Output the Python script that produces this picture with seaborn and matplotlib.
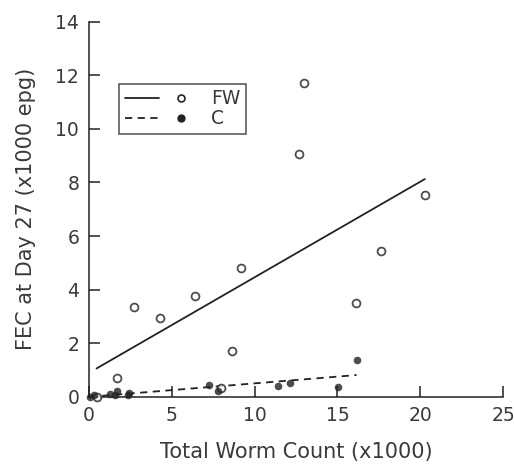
import matplotlib
matplotlib.use("Agg")
import matplotlib.pyplot as plt
import seaborn as sns
import numpy as np
import pandas as pd
from matplotlib.lines import Line2D
from matplotlib.legend_handler import HandlerTuple

# Data
fw_x = [0.46, 1.71, 2.72, 4.29, 6.42, 8.65, 9.18, 7.95, 12.70, 13.00, 16.12, 17.61, 20.27]
fw_y = [0.00, 0.70, 3.35, 2.94, 3.76, 1.71, 4.81, 0.31, 9.05, 11.70, 3.50, 5.44, 7.52]
c_x = [0.05, 0.30, 1.30, 1.55, 1.70, 2.40, 2.35, 7.25, 7.80, 11.40, 12.15, 15.05, 16.15]
c_y = [0.00, 0.05, 0.10, 0.05, 0.20, 0.15, 0.05, 0.45, 0.20, 0.40, 0.52, 0.38, 1.38]
x_ticks = [0, 5, 10, 15, 20, 25]
y_ticks = [0, 2, 4, 6, 8, 10, 12, 14]

sns.set_style("ticks")
plt.rcParams['font.family'] = ['DejaVu Sans']

fw = pd.DataFrame({"x": fw_x, "y": fw_y})
c = pd.DataFrame({"x": c_x, "y": c_y})

fig = plt.figure(figsize=(5.14, 4.67), dpi=100)
ax = fig.add_axes([0.173, 0.1505, 0.806, 0.803])

ink = "#222222"
txt = "#3a3a3a"

sns.regplot(data=fw, x="x", y="y", ax=ax, ci=None, truncate=True,
            scatter_kws=dict(s=32, facecolors="white", edgecolors=ink, linewidths=1.3, clip_on=False, zorder=3),
            line_kws=dict(color=ink, lw=1.3, zorder=2))
sns.regplot(data=c, x="x", y="y", ax=ax, ci=None, truncate=True,
            scatter_kws=dict(s=30, color=ink, linewidths=0, clip_on=False, zorder=3),
            line_kws=dict(color=ink, lw=1.3, ls=(0, (4, 3)), zorder=2))

ax.set_xlim(0, 25)
ax.set_ylim(0, 14)
ax.set_xticks(x_ticks)
ax.set_yticks(y_ticks)
ax.tick_params(direction="in", length=8, width=1.1, color=ink, labelcolor=txt, labelsize=13.5, pad=7)
for s in ["top", "right"]:
    ax.spines[s].set_visible(False)
for s in ["left", "bottom"]:
    ax.spines[s].set_color(ink)
    ax.spines[s].set_linewidth(1.1)

ax.set_xlabel("Total Worm Count (x1000)", fontsize=15, color=txt, labelpad=12)
ax.set_ylabel("FEC at Day 27 (x1000 epg)", fontsize=15, color=txt, labelpad=14)

h_fw = (Line2D([], [], color=ink, lw=1.3), Line2D([], [], ls="", marker="o", ms=5, mfc="white", mec=ink, mew=1.2))
h_c = (Line2D([], [], color=ink, lw=1.3, ls=(0, (4, 3))), Line2D([], [], ls="", marker="o", ms=5, mfc=ink, mec=ink))
leg = ax.legend([h_fw, h_c], ["FW", "C"], handler_map={tuple: HandlerTuple(ndivide=None, pad=0.3)},
                handlelength=3.9, loc="upper left", bbox_to_anchor=(0.073, 0.835), fontsize=13.5,
                frameon=True, fancybox=False, borderpad=0.3, labelspacing=0.05, handletextpad=0.7,
                borderaxespad=0)
leg.get_frame().set_edgecolor(ink)
leg.get_frame().set_linewidth(1.1)
for t in leg.get_texts():
    t.set_color(txt)

fig.savefig("out.png", dpi=100)
